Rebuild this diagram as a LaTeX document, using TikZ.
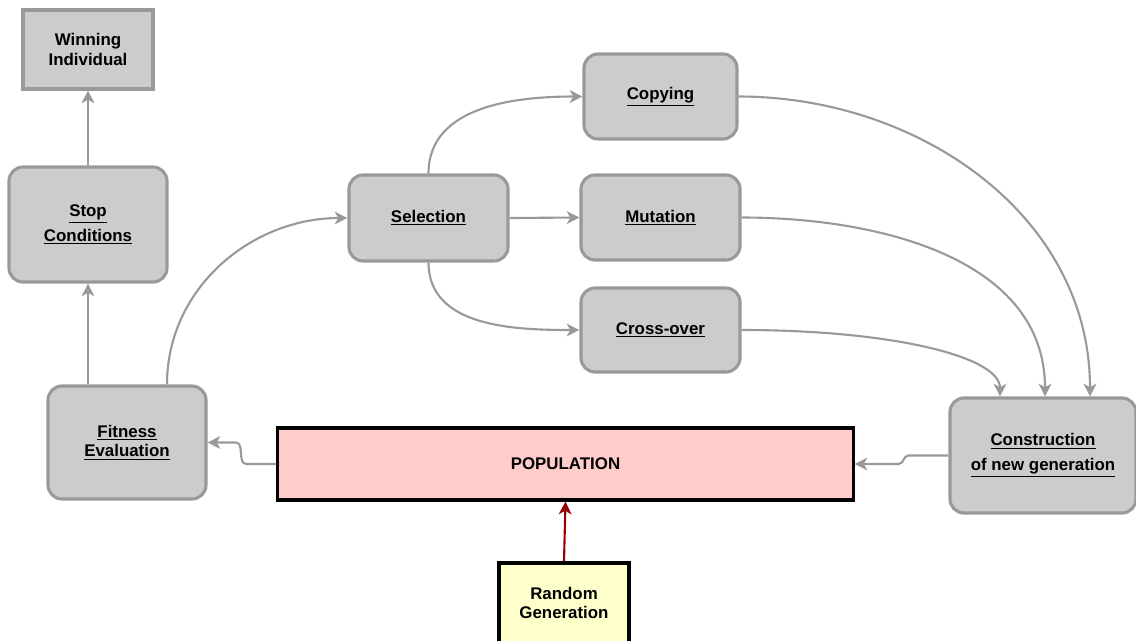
\documentclass[tikz,border=0pt]{standalone}
\usepackage{fontspec}
\setmainfont{Liberation Sans}
\usepackage{tikz}
\usetikzlibrary{calc,arrows.meta,positioning}
\definecolor{boxfill}{RGB}{204,204,204}
\definecolor{boxline}{RGB}{153,153,153}
\definecolor{popfill}{RGB}{255,204,204}
\definecolor{randfill}{RGB}{255,255,204}
\definecolor{darkred}{RGB}{153,0,0}

\begin{document}
\begin{tikzpicture}[x=0.025cm, y=-0.025cm,
    gen/.style={draw=boxline, fill=boxfill, line width=2.2pt, rounded corners=10pt, align=center, inner sep=0pt, font=\fontsize{12}{14}\selectfont\bfseries},
    plain/.style={draw=black, line width=2.2pt, align=center, inner sep=0pt, font=\fontsize{12}{14}\selectfont\bfseries},
    flow/.style={draw=boxline, line width=1.5pt, -{Stealth[length=9pt,width=9pt,inset=2.5pt]}}]
    \useasboundingbox (0,0) rectangle (1136,640);

    \node[gen,rounded corners=0pt,minimum width=3.25cm,minimum height=1.975cm] (win) at (88,49.5) {Winning\\Individual};
    \node[gen,minimum width=3.95cm,minimum height=2.875cm] (stop) at (88,224.5) {\underline{Stop}\\[3.7pt]\underline{Conditions}};
    \node[gen,minimum width=3.95cm,minimum height=2.825cm] (fit) at (127,442.5) {\underline{Fitness}\\\underline{Evaluation}};

    \node[gen,minimum width=3.975cm,minimum height=2.15cm] (sel) at (428.5,218) {\underline{Selection}};
    \node[gen,minimum width=3.825cm,minimum height=2.125cm] (copy) at (660.5,96.5) {\underline{Copying}};
    \node[gen,minimum width=3.975cm,minimum height=2.125cm] (mut) at (660.5,217.5) {\underline{Mutation}};
    \node[gen,minimum width=3.975cm,minimum height=2.1cm] (cross) at (660.5,330) {\underline{Cross-over}};
    \node[gen,minimum width=4.65cm,minimum height=2.875cm] (cons) at (1043,455.5) {\underline{Construction}\\[3.7pt]\underline{of new generation}};

    \node[plain,fill=popfill,minimum width=14.375cm,minimum height=1.8cm] (pop) at (565.5,464) {POPULATION};
    \node[plain,fill=randfill,minimum width=3.25cm,minimum height=2cm] (rand) at (564,603) {Random\\Generation};

    \draw[flow] (stop.north) -- (win.south);
    \draw[flow] ($(fit.north)+(-39,0)$) -- (stop.south);
    \draw[flow] ($(fit.north)+(40,0)$) to[out=90,in=180] (sel.west);
    \draw[flow] (sel.north) to[out=90,in=180] (copy.west);
    \draw[flow] (sel.east) -- (mut.west);
    \draw[flow] (sel.south) to[out=-90,in=180] (cross.west);
    \draw[flow] (copy.east) to[out=0,in=90] ($(cons.north)+(47,0)$);
    \draw[flow] (mut.east) to[out=0,in=90] ($(cons.north)+(2,0)$);
    \draw[flow] (cross.east) .. controls +(150,0) and +(0,-40) .. ($(cons.north)+(-43,0)$);
    \draw[flow] (cons.west) -- ++(-40,0) to[out=180,in=0] ($(pop.east)+(44,0)$) -- (pop.east);
    \draw[flow] (pop.west) -- ++(-30,0) to[out=180,in=0] ($(fit.east)+(28,0)$) -- (fit.east);
    \draw[flow,draw=darkred] (rand.north) -- (pop.south);
\end{tikzpicture}
\end{document}
